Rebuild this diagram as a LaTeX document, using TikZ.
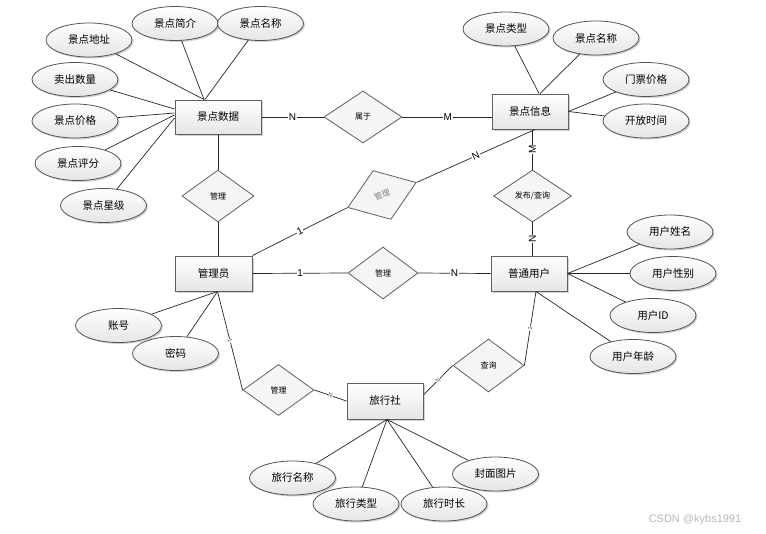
\documentclass[tikz,border=0pt]{standalone}
\usepackage{fontspec}
\newfontfamily\cjk{Noto Sans CJK SC}
\newfontfamily\lat{Liberation Sans}
\usetikzlibrary{shapes.geometric,shadows,calc}
\begin{document}
\begin{tikzpicture}[x=1pt,y=-1pt,
  shd/.style={drop shadow={shadow xshift=1.5pt,shadow yshift=-1.5pt,fill=black!40,opacity=.45}},
  ent/.style={rectangle, draw=gray!75!black, line width=1pt, top color=white, bottom color=gray!20, shd,
    font=\cjk\fontsize{10.5}{12}\selectfont, inner sep=0pt, minimum width=76pt, minimum height=35pt},
  attr/.style={ellipse, draw=gray!65!black, line width=0.8pt, top color=white, bottom color=gray!20, shd,
    font=\cjk\fontsize{10.5}{12}\selectfont, inner sep=0pt, minimum width=86pt, minimum height=34pt},
  rel/.style={diamond, draw=gray!75!black, line width=0.8pt, fill=gray!8, inner sep=0pt,
    font=\cjk\fontsize{8}{9}\selectfont, minimum width=72pt, minimum height=52pt},
  ln/.style={draw=black!85, line width=0.7pt},
  card/.style={font=\lat\fontsize{10}{10}\selectfont, fill=white, inner sep=0.6pt},
  tcard/.style={font=\lat\fontsize{6}{6}\selectfont, fill=white, inner sep=0.3pt, sloped, text=black!70}
]
\useasboundingbox (0,0) rectangle (766,533);
\fill[white] (0,0) rectangle (766,533);

% entities
\node[ent, minimum width=86pt, minimum height=34pt] (sd) at (218,117) {景点数据};
\node[ent] (xx) at (530,111.5) {景点信息};
\node[ent, minimum width=77pt] (gly) at (213.5,273.5) {管理员};
\node[ent] (pt) at (529,273.5) {普通用户};
\node[ent, minimum height=36pt] (lxs) at (385,401) {旅行社};

% relationships
\node[rel, minimum width=78pt] (d1) at (363,117) {属于};
\node[rel] (d2) at (218,196) {管理};
\node[rel, minimum width=73pt, rotate=20, text=gray] (d3) at (382,195) {管理};
\node[rel, minimum width=78pt] (d4) at (532.5,196) {发布/查询};
\node[rel, minimum width=70pt] (d5) at (383,273) {管理};
\node[rel, minimum width=71pt, minimum height=51pt] (d6) at (278.5,390) {管理};
\node[rel, minimum width=71pt, minimum height=53pt] (d7) at (488.5,365.5) {查询};

% attributes
\node[attr] (a1) at (89,40) {景点地址};
\node[attr] (a2) at (175,23.5) {景点简介};
\node[attr] (a3) at (260.5,23.5) {景点名称};
\node[attr] (a4) at (75,79.5) {卖出数量};
\node[attr] (a5) at (75,121) {景点价格};
\node[attr] (a6) at (78,163.5) {景点评分};
\node[attr] (a7) at (103.5,205.5) {景点星级};
\node[attr] (b1) at (506,29) {景点类型};
\node[attr] (b2) at (596,38) {景点名称};
\node[attr] (b3) at (646,79.5) {门票价格};
\node[attr] (b4) at (646,121) {开放时间};
\node[attr] (c1) at (670,232) {用户姓名};
\node[attr] (c2) at (673,273.5) {用户性别};
\node[attr] (c3) at (653,315.5) {用户ID};
\node[attr] (c4) at (633,356.5) {用户年龄};
\node[attr] (e1) at (118.5,325.5) {账号};
\node[attr] (e2) at (175.5,353.5) {密码};
\node[attr] (f1) at (292.5,478) {旅行名称};
\node[attr] (f2) at (356,504) {旅行类型};
\node[attr] (f3) at (444,504) {旅行时长};
\node[attr] (f4) at (495.5,474) {封面图片};

% anchor coordinates
\coordinate (sdtop) at ($(sd.north)+(-14,0)$);
\coordinate (xxtop) at ($(xx.north)+(9,0)$);
\coordinate (ptbot) at ($(pt.south)+(7,0)$);
\coordinate (glybot) at ($(gly.south)+(4,0)$);
\coordinate (lxsbot) at ($(lxs.south)+(2,0)$);
\coordinate (xxbot) at ($(xx.south)+(5,0)$);
\coordinate (lxsr) at ($(lxs.east)+(0,-6)$);

% attribute lines
\draw[ln] (a1) -- (sdtop);
\draw[ln] (a2) -- (sdtop);
\draw[ln] (a3) -- ($(sdtop)+(1,0)$);
\draw[ln] (a4) -- ($(sd.west)+(0,-8)$);
\draw[ln] (a5) -- ($(sd.west)+(0,-4)$);
\draw[ln] (a6) -- ($(sd.west)+(0,-2)$);
\draw[ln] (a7) -- ($(sd.west)+(0,1)$);
\draw[ln] (b1) -- (xxtop);
\draw[ln] (b2) -- ($(xxtop)+(1,0)$);
\draw[ln] (b3) -- (xx.east);
\draw[ln] (b4) -- (xx.east);
\draw[ln] (c1) -- (pt.east);
\draw[ln] (c2) -- (pt.east);
\draw[ln] (c3) -- (pt.east);
\draw[ln] (c4) -- (ptbot);
\draw[ln] (e1) -- (glybot);
\draw[ln] (e2) -- (glybot);
\draw[ln] (f1) -- (lxsbot);
\draw[ln] (f2) -- (lxsbot);
\draw[ln] (f3) -- (lxsbot);
\draw[ln] (f4) -- (lxsbot);

% relationship lines
\draw[ln] (sd.east) -- node[card]{N} (d1.west);
\draw[ln] (d1.east) -- node[card, pos=0.51]{M} (d1.east -| xx.west);
\draw[ln] (xx.south -| d4.north) -- node[card, rotate=90]{M} (d4.north);
\draw[ln] (d4.south) -- node[card, rotate=90]{N} (d4.south |- pt.north);
\draw[ln] (sd.south) -- (d2.north);
\draw[ln] (d2.south) -- (d2.south |- gly.north);
\draw[ln] (gly.north east) -- node[card, sloped]{1} (d3.west);
\draw[ln] (d3.east) -- node[card, sloped]{N} (xxbot);
\draw[ln] (gly.east) -- node[card]{1} (d5.west);
\draw[ln] (d5.east) -- node[card]{N} (pt.west);
\draw[ln] (glybot) -- node[tcard]{1} (d6.west);
\draw[ln] (d6.east) -- node[tcard]{N} (lxs.west);
\draw[ln] (lxsr) -- node[tcard]{N} (d7.west);
\draw[ln] (d7.east) -- node[tcard]{1} (ptbot);

% watermark
\node[font=\lat\fontsize{11}{12}\selectfont, text=gray!55] (wm) at (695,520) {CSDN @kybs1991};
\end{tikzpicture}
\end{document}
